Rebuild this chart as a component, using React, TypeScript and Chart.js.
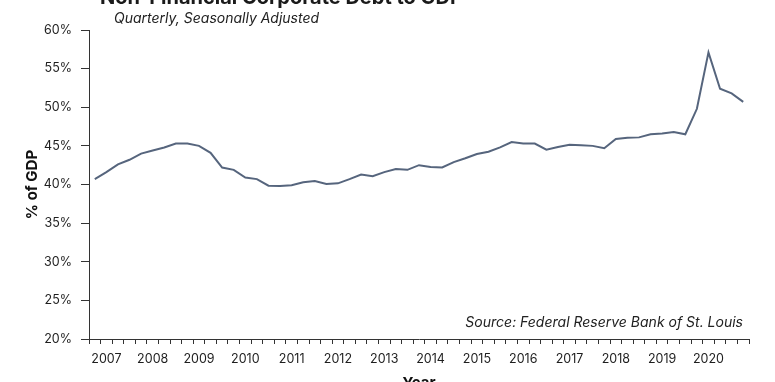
import React, { useEffect, useRef } from "react";
import { Chart, registerables } from "chart.js";

Chart.register(...registerables);

// Years covered (quarterly data 2007 Q1 – 2021 Q1)
const years: number[] = [2007, 2008, 2009, 2010, 2011, 2012, 2013, 2014, 2015, 2016, 2017, 2018, 2019, 2020, 2021];
const quarterNames: string[] = ["Q1", "Q2", "Q3", "Q4"];

// Non-financial corporate debt as % of GDP
const debtToGdp: number[] = [
  40.7, 41.6, 42.6, 43.2, 44.0, 44.4, 44.8, 45.3, 45.3, 45.0,
  44.1, 42.2, 41.9, 40.9, 40.7, 39.85, 39.8, 39.9, 40.3, 40.45,
  40.06, 40.15, 40.7, 41.3, 41.06, 41.6, 42.0, 41.9, 42.5, 42.26,
  42.2, 42.9, 43.4, 43.95, 44.25, 44.8, 45.5, 45.3, 45.3, 44.5,
  44.85, 45.15, 45.07, 45.0, 44.7, 45.9, 46.06, 46.1, 46.5, 46.6,
  46.8, 46.5, 49.8, 57.1, 52.4, 51.8, 50.7,
];

const categories: string[] = [];
years.forEach((y) => quarterNames.forEach((q) => categories.push(`${y} ${q}`)));
categories.length = debtToGdp.length;

const titleText = "Non-Financial Corporate Debt to GDP";
const subtitleText = "Quarterly, Seasonally Adjusted";
const sourceText = "Source: Federal Reserve Bank of St. Louis";
const yAxisTitle = "% of GDP";
const xAxisTitle = "Year";

const FONT = "Inter, 'Noto Sans', sans-serif";

const textPlugin = {
  id: "annotText",
  afterDraw(chart: any) {
    const ctx = chart.ctx;
    ctx.save();
    ctx.fillStyle = "#1a1a1a";
    ctx.textBaseline = "alphabetic";
    ctx.textAlign = "left";
    ctx.font = `bold 20px ${FONT}`;
    ctx.fillText(titleText, 100, 4);
    ctx.font = `italic 14px ${FONT}`;
    ctx.fillStyle = "#222";
    ctx.fillText(subtitleText, 114, 23);
    ctx.textAlign = "right";
    ctx.fillText(sourceText, 743, 327);
    ctx.restore();
  },
};

export default function App() {
  const ref = useRef<HTMLCanvasElement | null>(null);
  useEffect(() => {
    if (!ref.current) return;
    const chart = new Chart(ref.current, {
      type: "line",
      data: {
        labels: categories,
        datasets: [
          {
            data: debtToGdp,
            borderColor: "#56657d",
            borderWidth: 2,
            pointRadius: 0,
            tension: 0,
            fill: false,
          },
        ],
      },
      options: {
        responsive: false,
        animation: false,
        layout: { padding: { top: 30, right: 26, left: 0, bottom: 0 } },
        plugins: {
          legend: { display: false },
          tooltip: { enabled: false },
          title: { display: false },
        },
        scales: {
          x: {
            type: "category",
            offset: true,
            afterFit: (s: any) => {
              s.height = 61;
            },
            border: { display: true, color: "#333", width: 1 },
            grid: {
              display: true,
              offset: true,
              drawOnChartArea: false,
              drawTicks: true,
              tickLength: 5,
              color: "#333",
            },
            ticks: {
              autoSkip: false,
              maxRotation: 0,
              minRotation: 0,
              padding: 8,
              color: "#1e1e1e",
              font: { family: FONT, size: 12.5 },
              callback: (_v: any, i: number) => (i % 4 === 1 ? categories[i].slice(0, 4) : ""),
            },
            title: {
              display: true,
              text: xAxisTitle,
              color: "#111",
              font: { family: FONT, size: 15, weight: "bold" },
              padding: { top: 0, bottom: 8 },
            },
          },
          y: {
            min: 20,
            max: 60,
            afterFit: (s: any) => {
              s.width = 89;
            },
            border: { display: true, color: "#333", width: 1 },
            grid: {
              display: true,
              drawOnChartArea: false,
              drawTicks: true,
              tickLength: 8,
              color: "#333",
            },
            ticks: {
              stepSize: 5,
              padding: 9,
              color: "#1e1e1e",
              font: { family: FONT, size: 12.5 },
              callback: (v: any) => `${v}%`,
            },
            title: {
              display: true,
              text: yAxisTitle,
              color: "#111",
              font: { family: FONT, size: 15, weight: "bold" },
              padding: { top: 23, bottom: 0 },
            },
          },
        },
      },
      plugins: [textPlugin],
    });
    return () => chart.destroy();
  }, []);

  return (
    <div
      style={{
        position: "fixed",
        left: 0,
        top: 0,
        width: 775,
        height: 382,
        overflow: "hidden",
        background: "#fff",
      }}
    >
      <canvas ref={ref} width={775} height={400} style={{ width: 775, height: 400, display: "block" }} />
    </div>
  );
}
